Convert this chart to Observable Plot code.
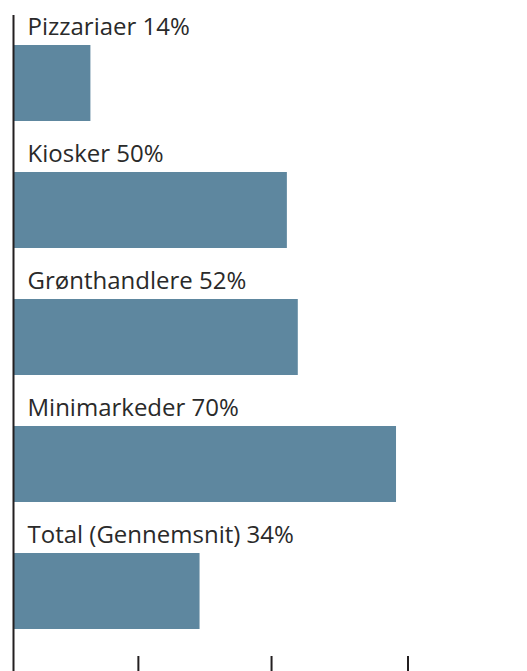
<!DOCTYPE html>
<html>
<head>
<meta charset="utf-8">
<script src="https://cdn.jsdelivr.net/npm/d3@7"></script>
<script src="https://cdn.jsdelivr.net/npm/@observablehq/plot@0.6"></script>
<style>
  html, body { margin: 0; padding: 0; background: #fff; }
  #chart svg { display: block; }
</style>
</head>
<body>
<div id="chart"></div>
<script>
const categories = ["Pizzariaer", "Kiosker", "Grønthandlere", "Minimarkeder", "Total (Gennemsnit)"];
const values = [14, 50, 52, 70, 34];
const tickValues = [22.7, 47.1, 72.1];

const data = categories.map((c, i) => ({category: c, value: values[i], label: `${c} ${values[i]}%`}));

const chart = Plot.plot({
  width: 527,
  height: 671,
  marginLeft: 14,
  marginRight: 0,
  marginTop: 44,
  marginBottom: 41,
  style: {fontFamily: "Open Sans", background: "#fff"},
  x: {domain: [0, 94], axis: null},
  y: {domain: categories, axis: null, paddingInner: 0.404, paddingOuter: 0},
  marks: [
    Plot.barX(data, {x: "value", y: "category", fill: "#5e879f"}),
    Plot.text(data, {x: 0, y: "category", text: "label", textAnchor: "start", lineAnchor: "bottom", dx: 13, dy: -49, fontSize: 24, fill: "#2a2a2a"}),
    Plot.ruleX([0], {stroke: "#231f20", strokeWidth: 2, dx: -1, insetTop: -29, insetBottom: -41}),
    Plot.ruleX(tickValues, {stroke: "#231f20", strokeWidth: 2, insetTop: 612, insetBottom: -41})
  ]
});
document.getElementById("chart").appendChild(chart);
</script>
</body>
</html>
